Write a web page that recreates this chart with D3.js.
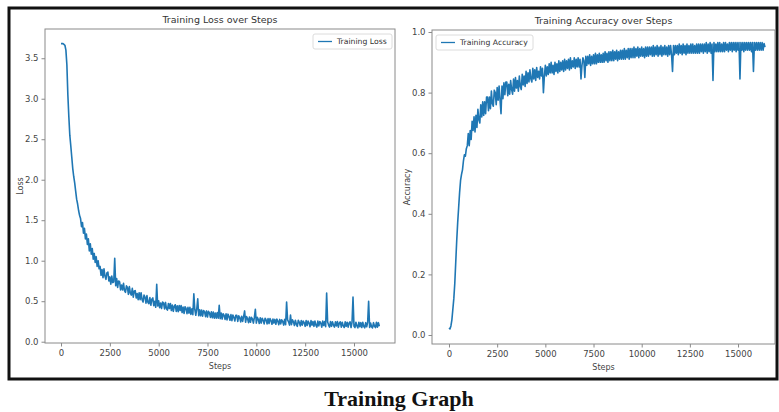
<!DOCTYPE html>
<html>
<head>
<meta charset="utf-8">
<script src="https://cdn.jsdelivr.net/npm/d3@7"></script>
<style>
  body { margin: 0; background: #fff; }
</style>
</head>
<body>
<div id="chart"></div>
<script>
const LOG_EVERY = 50;

const lossValues = [
  3.68, 3.68, 3.68, 3.67, 3.66, 3.60, 3.42, 3.05, 2.78, 2.55, 2.42, 2.28, 2.14, 2.04, 1.96, 1.86, 1.76, 1.70, 1.62, 1.56,
  1.52, 1.42, 1.47, 1.34, 1.40, 1.27, 1.33, 1.20, 1.27, 1.12, 1.21, 1.08, 1.15, 1.02, 1.09, 0.98, 1.05, 0.93, 1.00, 0.90,
  0.93, 0.82, 0.89, 0.79, 0.90, 0.81, 0.77, 0.85, 0.86, 0.75, 0.80, 0.71, 0.81, 0.73, 0.74, 1.03, 0.69, 0.78, 0.67, 0.75,
  0.74, 0.64, 0.70, 0.64, 0.72, 0.63, 0.61, 0.69, 0.67, 0.585, 0.68, 0.60, 0.575, 0.66, 0.55, 0.625, 0.63, 0.54, 0.595, 0.52,
  0.605, 0.52, 0.605, 0.52, 0.49, 0.575, 0.55, 0.475, 0.57, 0.485, 0.47, 0.545, 0.45, 0.525, 0.54, 0.445, 0.50, 0.425, 0.71, 0.44,
  0.505, 0.42, 0.478, 0.41, 0.49, 0.477, 0.405, 0.485, 0.407, 0.39, 0.472, 0.41, 0.472, 0.385, 0.452, 0.375, 0.438, 0.456, 0.374, 0.442,
  0.37, 0.447, 0.385, 0.447, 0.36, 0.427, 0.35, 0.432, 0.41, 0.347, 0.425, 0.352, 0.425, 0.338, 0.405, 0.333, 0.59, 0.398, 0.326, 0.404,
  0.53, 0.32, 0.395, 0.32, 0.39, 0.315, 0.385, 0.37, 0.31, 0.38, 0.305, 0.375, 0.355, 0.30, 0.37, 0.295, 0.365, 0.29, 0.355, 0.29,
  0.36, 0.29, 0.45, 0.285, 0.355, 0.28, 0.345, 0.325, 0.275, 0.345, 0.27, 0.34, 0.31, 0.265, 0.335, 0.26, 0.33, 0.30, 0.255, 0.325,
  0.325, 0.25, 0.32, 0.295, 0.245, 0.315, 0.25, 0.31, 0.38, 0.24, 0.31, 0.285, 0.235, 0.305, 0.24, 0.30, 0.28, 0.23, 0.30, 0.40,
  0.23, 0.30, 0.275, 0.225, 0.295, 0.23, 0.29, 0.265, 0.22, 0.29, 0.27, 0.22, 0.285, 0.225, 0.285, 0.26, 0.215, 0.28, 0.23, 0.275,
  0.215, 0.28, 0.255, 0.21, 0.275, 0.22, 0.27, 0.25, 0.205, 0.275, 0.21, 0.49, 0.27, 0.245, 0.205, 0.33, 0.21, 0.27, 0.245, 0.20,
  0.265, 0.215, 0.19, 0.265, 0.24, 0.195, 0.26, 0.205, 0.255, 0.235, 0.19, 0.26, 0.20, 0.255, 0.23, 0.185, 0.26, 0.205, 0.25, 0.19,
  0.255, 0.205, 0.18, 0.255, 0.195, 0.25, 0.23, 0.18, 0.255, 0.20, 0.25, 0.185, 0.60, 0.245, 0.205, 0.18, 0.25, 0.19, 0.245, 0.205,
  0.18, 0.245, 0.195, 0.25, 0.18, 0.23, 0.245, 0.18, 0.24, 0.195, 0.175, 0.245, 0.19, 0.24, 0.18, 0.23, 0.245, 0.175, 0.24, 0.55,
  0.19, 0.175, 0.24, 0.195, 0.17, 0.24, 0.185, 0.235, 0.175, 0.24, 0.19, 0.17, 0.235, 0.185, 0.24, 0.50, 0.175, 0.23, 0.185, 0.17,
  0.235, 0.19, 0.175, 0.24, 0.18, 0.235, 0.19
];

const accuracyValues = [
  0.023, 0.020, 0.030, 0.050, 0.085, 0.12, 0.17, 0.24, 0.31, 0.37, 0.42, 0.47, 0.51, 0.53, 0.545, 0.575, 0.595, 0.59, 0.615, 0.625,
  0.665, 0.625, 0.675, 0.645, 0.705, 0.675, 0.72, 0.67, 0.725, 0.685, 0.745, 0.71, 0.70, 0.76, 0.72, 0.77, 0.725, 0.77, 0.73, 0.785,
  0.785, 0.74, 0.785, 0.747, 0.805, 0.763, 0.755, 0.808, 0.80, 0.76, 0.817, 0.775, 0.822, 0.775, 0.73, 0.822, 0.78, 0.832, 0.793, 0.835,
  0.835, 0.79, 0.827, 0.795, 0.84, 0.81, 0.795, 0.845, 0.805, 0.85, 0.815, 0.84, 0.805, 0.855, 0.82, 0.81, 0.86, 0.825, 0.855, 0.82,
  0.87, 0.83, 0.865, 0.835, 0.875, 0.845, 0.835, 0.88, 0.845, 0.875, 0.84, 0.883, 0.85, 0.87, 0.845, 0.885, 0.855, 0.88, 0.80, 0.855,
  0.89, 0.855, 0.885, 0.86, 0.895, 0.865, 0.90, 0.865, 0.89, 0.86, 0.90, 0.87, 0.895, 0.865, 0.905, 0.87, 0.90, 0.875, 0.905, 0.87,
  0.91, 0.875, 0.905, 0.88, 0.91, 0.875, 0.915, 0.88, 0.905, 0.885, 0.915, 0.88, 0.91, 0.885, 0.915, 0.885, 0.91, 0.845, 0.89, 0.915,
  0.905, 0.85, 0.92, 0.89, 0.92, 0.895, 0.925, 0.89, 0.92, 0.895, 0.925, 0.895, 0.93, 0.895, 0.925, 0.90, 0.93, 0.90, 0.925, 0.90,
  0.93, 0.90, 0.935, 0.905, 0.93, 0.90, 0.935, 0.905, 0.935, 0.905, 0.94, 0.905, 0.935, 0.91, 0.94, 0.905, 0.935, 0.91, 0.94, 0.91,
  0.94, 0.91, 0.945, 0.91, 0.94, 0.915, 0.945, 0.91, 0.945, 0.915, 0.945, 0.915, 0.95, 0.915, 0.945, 0.92, 0.95, 0.915, 0.945, 0.92,
  0.95, 0.92, 0.945, 0.915, 0.95, 0.92, 0.95, 0.92, 0.95, 0.925, 0.95, 0.92, 0.955, 0.92, 0.95, 0.925, 0.955, 0.92, 0.95, 0.925,
  0.955, 0.92, 0.95, 0.925, 0.955, 0.925, 0.95, 0.92, 0.955, 0.925, 0.955, 0.925, 0.87, 0.955, 0.925, 0.955, 0.93, 0.955, 0.925, 0.96,
  0.93, 0.955, 0.925, 0.96, 0.93, 0.955, 0.925, 0.96, 0.93, 0.955, 0.93, 0.96, 0.93, 0.96, 0.93, 0.955, 0.93, 0.96, 0.93, 0.96,
  0.93, 0.96, 0.935, 0.96, 0.93, 0.96, 0.935, 0.965, 0.93, 0.96, 0.935, 0.965, 0.93, 0.96, 0.84, 0.965, 0.935, 0.96, 0.935, 0.965,
  0.935, 0.965, 0.935, 0.96, 0.935, 0.965, 0.935, 0.965, 0.94, 0.96, 0.935, 0.965, 0.94, 0.965, 0.935, 0.965, 0.94, 0.965, 0.935, 0.965,
  0.94, 0.965, 0.845, 0.965, 0.94, 0.965, 0.935, 0.965, 0.94, 0.965, 0.94, 0.965, 0.94, 0.965, 0.935, 0.965, 0.87, 0.965, 0.94, 0.965,
  0.94, 0.965, 0.94, 0.965, 0.94, 0.965, 0.94, 0.962, 0.95
];

const stepTicks = [0, 2500, 5000, 7500, 10000, 12500, 15000];
const lossTicks = [0.0, 0.5, 1.0, 1.5, 2.0, 2.5, 3.0, 3.5];
const accuracyTicks = [0.0, 0.2, 0.4, 0.6, 0.8, 1.0];

const W = 779;
const H = 412;
const lineColor = "#1f77b4";
const spineColor = "#8a8a8a";
const sans = "DejaVu Sans, sans-serif";

const svg = d3
  .select("#chart")
  .append("svg")
  .attr("width", W)
  .attr("height", H);

// outer black frame
svg
  .append("rect")
  .attr("x", 9)
  .attr("y", 8)
  .attr("width", 768)
  .attr("height", 371)
  .attr("fill", "none")
  .attr("stroke", "#111")
  .attr("stroke-width", 3);

function drawPanel(p) {
  const xScale = d3.scaleLinear().domain(p.xDomain).range([p.left, p.right]);
  const yScale = d3.scaleLinear().domain(p.yDomain).range([p.bottom, p.top]);

  const g = svg.append("g").style("font-family", sans);

  // title
  g.append("text")
    .attr("x", (p.left + p.right) / 2)
    .attr("y", p.top - 6)
    .attr("text-anchor", "middle")
    .attr("font-size", 9.5)
    .attr("fill", "#333")
    .text(p.title);

  // axes
  const xAxis = d3
    .axisBottom(xScale)
    .tickValues(stepTicks)
    .tickFormat(d3.format("d"))
    .tickSize(3.5)
    .tickPadding(3);
  const yAxis = d3
    .axisLeft(yScale)
    .tickValues(p.yTicks)
    .tickFormat(d3.format(".1f"))
    .tickSize(3.5)
    .tickPadding(3);

  const xg = g
    .append("g")
    .attr("transform", `translate(0, ${p.bottom})`)
    .call(xAxis);
  const yg = g
    .append("g")
    .attr("transform", `translate(${p.left}, 0)`)
    .call(yAxis);

  [xg, yg].forEach(function (a) {
    a.select(".domain").remove();
    a.selectAll(".tick line").attr("stroke", spineColor);
    a.selectAll(".tick text")
      .attr("fill", "#444")
      .attr("font-size", 8.5)
      .attr("font-family", sans);
  });

  // axis labels
  g.append("text")
    .attr("x", (p.left + p.right) / 2)
    .attr("y", p.bottom + 26)
    .attr("text-anchor", "middle")
    .attr("font-size", 8)
    .attr("fill", "#444")
    .text("Steps");

  g.append("text")
    .attr("transform", `translate(${p.yLabelX}, ${(p.top + p.bottom) / 2}) rotate(-90)`)
    .attr("text-anchor", "middle")
    .attr("font-size", 8)
    .attr("fill", "#444")
    .text(p.yLabel);

  // the series
  const line = d3
    .line()
    .x(function (d, i) {
      return xScale(i * LOG_EVERY);
    })
    .y(function (d) {
      return yScale(d);
    });

  g.append("path")
    .datum(p.values)
    .attr("fill", "none")
    .attr("stroke", lineColor)
    .attr("stroke-width", 1.6)
    .attr("stroke-linejoin", "round")
    .attr("d", line);

  // spines
  g.append("rect")
    .attr("x", p.left)
    .attr("y", p.top)
    .attr("width", p.right - p.left)
    .attr("height", p.bottom - p.top)
    .attr("fill", "none")
    .attr("stroke", spineColor)
    .attr("stroke-width", 1);

  // legend
  const lg = g.append("g").attr("transform", `translate(${p.legendX}, ${p.top + 5})`);
  lg.append("rect")
    .attr("width", p.legendW)
    .attr("height", 15)
    .attr("rx", 2)
    .attr("fill", "#fff")
    .attr("stroke", "#dcdcdc");
  lg.append("line")
    .attr("x1", 5)
    .attr("x2", 19)
    .attr("y1", 7.5)
    .attr("y2", 7.5)
    .attr("stroke", lineColor)
    .attr("stroke-width", 1.3);
  lg.append("text")
    .attr("x", 24)
    .attr("y", 10.3)
    .attr("font-size", 7.7)
    .attr("fill", "#333")
    .text(p.legend);
}

drawPanel({
  left: 45, right: 395, top: 29, bottom: 343,
  xDomain: [-820, 17100],
  yDomain: [-0.016, 3.861],
  yTicks: lossTicks,
  values: lossValues,
  title: "Training Loss over Steps",
  yLabel: "Loss",
  yLabelX: 23,
  legend: "Training Loss",
  legendX: 313,
  legendW: 79
});

drawPanel({
  left: 432, right: 775, top: 30, bottom: 344,
  xDomain: [-882, 16918],
  yDomain: [-0.0297, 1.0066],
  yTicks: accuracyTicks,
  values: accuracyValues,
  title: "Training Accuracy over Steps",
  yLabel: "Accuracy",
  yLabelX: 410,
  legend: "Training Accuracy",
  legendX: 436,
  legendW: 97
});

// caption
svg
  .append("text")
  .attr("x", 399)
  .attr("y", 406)
  .attr("text-anchor", "middle")
  .style("font-family", "'Liberation Serif', 'Times New Roman', serif")
  .attr("font-weight", "bold")
  .attr("font-size", 22)
  .attr("fill", "#111")
  .text("Training Graph");
</script>
</body>
</html>
